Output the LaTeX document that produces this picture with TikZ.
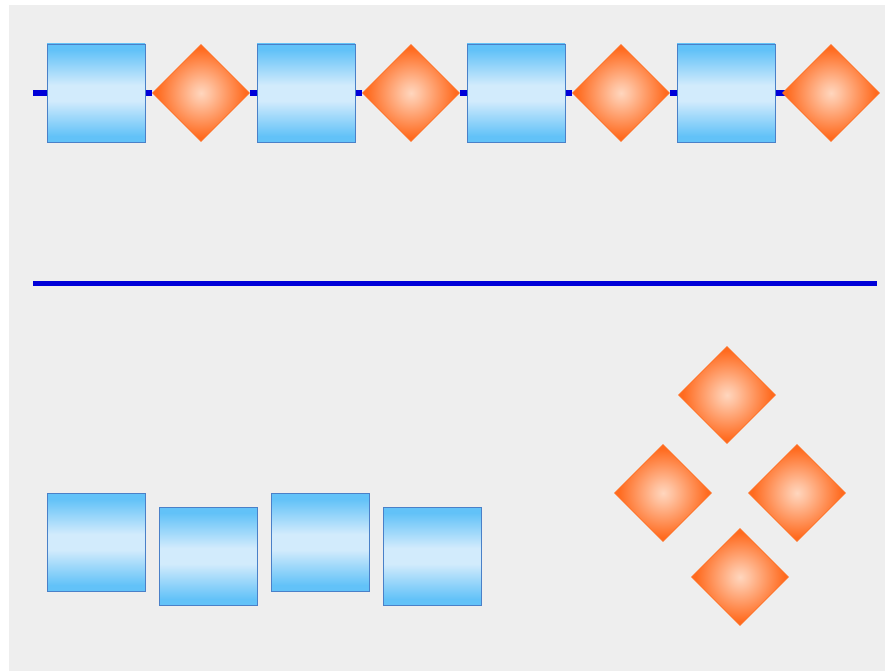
\documentclass[tikz,border=0pt]{standalone}
\usetikzlibrary{shapes.geometric}
\definecolor{bgray}{HTML}{EEEEEE}
\definecolor{boxedge}{HTML}{4A80C8}
\definecolor{boxtop}{HTML}{62C2F8}
\definecolor{boxmid}{HTML}{D2EBFC}
\definecolor{dedge}{HTML}{FF6F22}
\definecolor{dout}{HTML}{FF6A1E}
\definecolor{din}{HTML}{FFD6BE}
\definecolor{lineblue}{HTML}{0000D8}
\pgfdeclareverticalshading{boxshade}{100bp}{color(0bp)=(boxtop); color(28bp)=(boxtop); color(38bp)=(boxmid!55!boxtop); color(46bp)=(boxmid); color(54bp)=(boxmid); color(62bp)=(boxmid!55!boxtop); color(72bp)=(boxtop); color(100bp)=(boxtop)}
\pgfdeclareradialshading{dmdshade}{\pgfpoint{0bp}{0bp}}{color(0bp)=(din); color(5bp)=(din!80!dout); color(14bp)=(din!40!dout); color(23bp)=(dout); color(50bp)=(dout)}
\pgfdeclarelayer{bglayer}
\pgfdeclarelayer{linelayer}
\pgfsetlayers{bglayer,linelayer,main}
\tikzset{
  sqbox/.style={rectangle, draw=boxedge, line width=0.9pt, minimum width=98pt, minimum height=98pt, inner sep=0pt,
    shading=boxshade},
  dmd/.style={diamond, draw=dedge, line width=0.6pt, minimum width=97pt, minimum height=97pt, inner sep=0pt, aspect=1,
    shading=dmdshade},
  bluebar/.style={draw=lineblue, line width=5.5pt}
}
\begin{document}
\begin{tikzpicture}[x=1pt,y=-1pt]
\begin{pgfonlayer}{bglayer}
\fill[white] (0,0) rectangle (885,671);
\fill[bgray] (9,5) rectangle (885,671);
\end{pgfonlayer}
% top row
\node[sqbox] (b1) at (96,93) {};
\node[dmd] (d1) at (201,93) {};
\node[sqbox] (b2) at (306,93) {};
\node[dmd] (d2) at (411,93) {};
\node[sqbox] (b3) at (516,93) {};
\node[dmd] (d3) at (621,93) {};
\node[sqbox] (b4) at (726,93) {};
\node[dmd] (d4) at (831,93) {};
\coordinate (s1) at (33,93);
\begin{pgfonlayer}{linelayer}
\draw[bluebar] (s1) -- (b1) -- (d1) -- (b2) -- (d2) -- (b3) -- (d3) -- (b4) -- (d4.center);
\end{pgfonlayer}
% divider
\coordinate (l1) at (33,283);
\coordinate (l2) at (877,283);
\draw[bluebar, line width=5pt] (l1) -- (l2);
% bottom boxes
\node[sqbox] (c1) at (96,542) {};
\node[sqbox] (c2) at (208,556) {};
\node[sqbox] (c3) at (320,542) {};
\node[sqbox] (c4) at (432,556) {};
% bottom diamonds
\node[dmd] (e1) at (727,395) {};
\node[dmd] (e2) at (663,493) {};
\node[dmd] (e3) at (797,493) {};
\node[dmd] (e4) at (740,577) {};
\end{tikzpicture}
\end{document}
